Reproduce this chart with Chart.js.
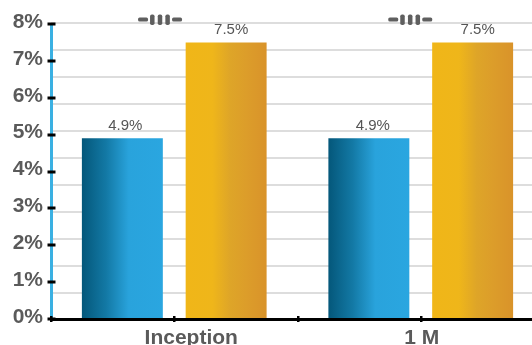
<!DOCTYPE html>
<html>
<head>
<meta charset="utf-8">
<style>
  html, body { margin: 0; padding: 0; background: #fff; overflow: hidden; }
  canvas { display: block; }
</style>
<script src="https://cdn.jsdelivr.net/npm/chart.js@4"></script>
</head>
<body>
<canvas id="returnsChart" width="560" height="345"></canvas>
<script>
const categories = ["Inception", "1 M"];
const blueValues = [4.9, 4.9];
const goldValues = [7.5, 7.5];
const yTicks = [0, 1, 2, 3, 4, 5, 6, 7, 8];
const gridValues = [0.705, 1.437, 2.169, 2.902, 3.634, 4.366, 5.098, 5.831, 6.563, 7.295, 8.027];

const categoryPct = 0.842;
const barPct = 0.78;
const fontName = '"Liberation Sans", Arial, sans-serif';

// the x labels and value labels sit a bit off centre in the original
const xLabelShift = [17, 1];
const valueLabelShift = [[3, 4], [5, 5]];
const markShift = [-14.2, -10.5];

const blueStops = [[0, "#04577a"], [0.3, "#1379a5"], [0.58, "#29a3dc"], [1, "#2aa6e0"]];
const goldStops = [[0, "#f0b618"], [0.33, "#efb61a"], [0.55, "#dea528"], [0.75, "#dc9d2a"], [1, "#d9932a"]];

function barFill(stops, side) {
  return (ctx) => {
    const xScale = ctx.chart.scales.x;
    if (!xScale || ctx.dataIndex === undefined) {
      return stops[0][1];
    }
    const slot = (xScale.width / categories.length) * categoryPct / 2;
    const center = xScale.getPixelForValue(ctx.dataIndex) + side * slot / 2;
    const half = slot * barPct / 2;
    if (!Number.isFinite(center) || !Number.isFinite(half)) {
      return stops[0][1];
    }
    const grad = ctx.chart.ctx.createLinearGradient(center - half, 0, center + half, 0);
    stops.forEach((s) => grad.addColorStop(s[0], s[1]));
    return grad;
  };
}

function pill(c, x, y, w, h) {
  c.beginPath();
  c.roundRect(x, y, w, h, Math.min(w, h) / 2.5);
  c.fill();
}

const axisMarks = {
  id: "axisMarks",
  afterDraw(chart) {
    const c = chart.ctx;
    const x = chart.scales.x;
    const y = chart.scales.y;
    const left = x.left + 0.5;
    const half = x.width / categories.length / 2;
    c.save();

    // black ticks straddling both axes
    c.fillStyle = "#000";
    yTicks.forEach((v) => c.fillRect(left - 4, Math.round(y.getPixelForValue(v)) - 1.5, 8, 3));
    categories.forEach((_, i) => {
      const mid = Math.round(x.getPixelForValue(i));
      c.fillRect(mid - 1, y.bottom - 3, 2.5, 6);
      c.fillRect(Math.round(mid - half) - 1, y.bottom - 3, 2.5, 6);
    });

    // category labels
    c.textAlign = "center";
    c.textBaseline = "alphabetic";
    c.font = "bold 21px " + fontName;
    c.fillStyle = "#5a5a5a";
    categories.forEach((name, i) => {
      c.fillText(name, x.getPixelForValue(i) + xLabelShift[i], 343.5);
    });

    // value labels
    c.font = "15px " + fontName;
    c.fillStyle = "#555";
    [blueValues, goldValues].forEach((values, ds) => {
      chart.getDatasetMeta(ds).data.forEach((bar, i) => {
        c.fillText(values[i].toFixed(1) + "%", bar.x + valueLabelShift[ds][i], bar.y - 8.5);
      });
    });

    // small dash and bars mark above each group
    c.fillStyle = "#5f5f5f";
    const top = y.getPixelForValue(8);
    categories.forEach((_, i) => {
      const mid = x.getPixelForValue(i) + markShift[i];
      pill(c, mid - 22, top - 6.5, 10, 4);
      pill(c, mid - 10, top - 9.5, 4.5, 10.5);
      pill(c, mid - 2.3, top - 9.5, 4.5, 10.5);
      pill(c, mid + 5.3, top - 9.5, 4.5, 10.5);
      pill(c, mid + 12, top - 6.5, 10, 4);
    });
    c.restore();
  },
};

new Chart(document.getElementById("returnsChart"), {
  type: "bar",
  plugins: [axisMarks],
  data: {
    labels: categories,
    datasets: [
      { data: blueValues, backgroundColor: barFill(blueStops, -1), yAxisID: "y" },
      { data: goldValues, backgroundColor: barFill(goldStops, 1), yAxisID: "y" },
    ],
  },
  options: {
    responsive: false,
    animation: false,
    categoryPercentage: categoryPct,
    barPercentage: barPct,
    layout: { padding: { top: 24, right: 16, left: 0, bottom: 0 } },
    plugins: { legend: { display: false }, tooltip: { enabled: false } },
    scales: {
      x: {
        grid: { display: false },
        border: { color: "#000", width: 3, z: 1 },
        ticks: { display: false },
        afterFit(axis) { axis.height = 26; },
      },
      y: {
        min: 0,
        max: 8,
        afterBuildTicks(axis) { axis.ticks = yTicks.map((v) => ({ value: v })); },
        afterFit(axis) { axis.width = 51; },
        grid: { display: false },
        border: { color: "#3ab0e2", width: 3, z: 1 },
        ticks: {
          padding: 0,
          labelOffset: -2,
          color: "#5a5a5a",
          font: { family: fontName, size: 21, weight: "bold" },
          callback: (v) => v + "%",
        },
      },
      grid: {
        position: "left",
        min: 0,
        max: 8,
        afterBuildTicks(axis) { axis.ticks = gridValues.map((v) => ({ value: v })); },
        afterFit(axis) { axis.width = 0; },
        grid: { color: "#dddddd", lineWidth: 2, drawTicks: false },
        border: { display: false },
        ticks: { display: false, autoSkip: false },
      },
    },
  },
});
</script>
</body>
</html>
